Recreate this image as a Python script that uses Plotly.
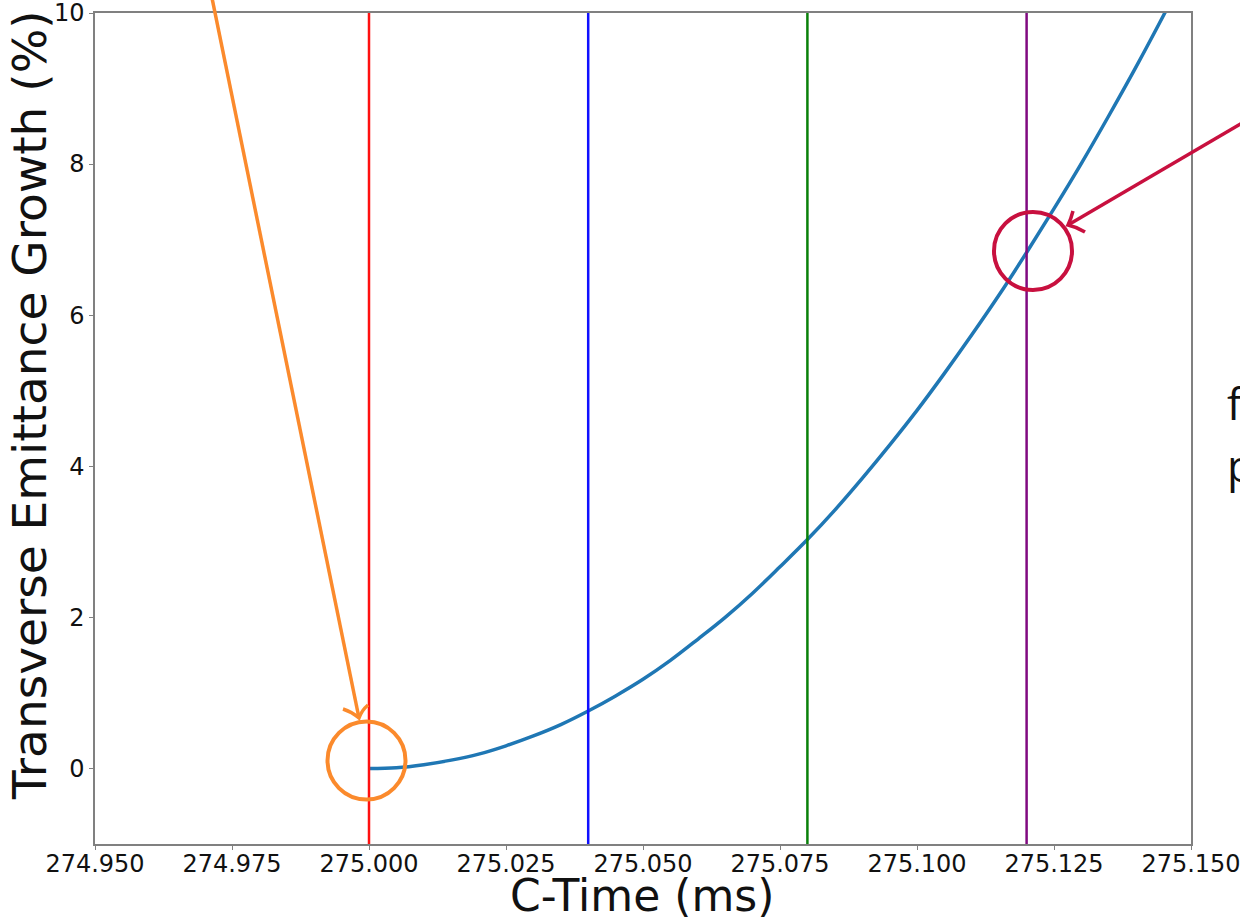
import plotly.graph_objects as go

# ---- data ----
ctime = [275.000, 275.005, 275.010, 275.015, 275.020, 275.025, 275.030, 275.035,
         275.040, 275.045, 275.050, 275.055, 275.060, 275.065, 275.070, 275.075,
         275.080, 275.085, 275.090, 275.095, 275.100, 275.105, 275.110, 275.115,
         275.120, 275.125, 275.130, 275.135, 275.140, 275.145, 275.150]
growth = [0.00, 0.01, 0.05, 0.11, 0.19, 0.30, 0.43, 0.58,
          0.76, 0.96, 1.18, 1.43, 1.71, 2.00, 2.32, 2.67,
          3.03, 3.42, 3.84, 4.28, 4.74, 5.23, 5.74, 6.27,
          6.83, 7.41, 8.01, 8.64, 9.29, 9.97, 10.67]

marker_times = [275.000, 275.040, 275.080, 275.120]
marker_colors = ["#ff1010", "#1010ff", "#0a800a", "#800a80"]

x_ticks = [274.950, 274.975, 275.000, 275.025, 275.050, 275.075, 275.100, 275.125, 275.150]
x_tick_labels = ["274.950", "274.975", "275.000", "275.025", "275.050",
                 "275.075", "275.100", "275.125", "275.150"]
y_ticks = [0, 2, 4, 6, 8, 10]

# ---- layout geometry (pixels) ----
W, H = 1240, 922
L, R, T, B = 95, 1191, 13, 844


def px(xpix):
    return (xpix - L) / (R - L)


def py(ypix):
    return (B - ypix) / (B - T)


fig = go.Figure()

fig.add_trace(go.Scatter(x=ctime, y=growth, mode="lines", line_shape="spline",
                         line=dict(color="#1f77b4", width=3.5),
                         showlegend=False, hoverinfo="skip"))

for xt, col in zip(marker_times, marker_colors):
    fig.add_trace(go.Scatter(x=[xt, xt], y=[-1, 10], mode="lines",
                             line=dict(color=col, width=2.5),
                             showlegend=False, hoverinfo="skip"))

shapes = []
ORANGE = "#fb8a2c"
CRIMSON = "#c8103f"

# orange arrow + circle
shapes.append(dict(type="line", xref="paper", yref="paper",
                   x0=px(212), y0=py(-2), x1=px(359), y1=py(718),
                   line=dict(color=ORANGE, width=3.5)))
shapes.append(dict(type="path", xref="paper", yref="paper",
                   path=f"M {px(343)},{py(709)} Q {px(352)},{py(712)} {px(359)},{py(718)} "
                        f"Q {px(362)},{py(710)} {px(368)},{py(705)}",
                   line=dict(color=ORANGE, width=3.5)))
shapes.append(dict(type="circle", xref="paper", yref="paper",
                   x0=px(327.5), x1=px(405.5), y0=py(799.5), y1=py(721.5),
                   line=dict(color=ORANGE, width=4)))

# crimson arrow + circle
shapes.append(dict(type="line", xref="paper", yref="paper",
                   x0=px(1242), y0=py(123), x1=px(1068), y1=py(225),
                   line=dict(color=CRIMSON, width=3.5)))
shapes.append(dict(type="path", xref="paper", yref="paper",
                   path=f"M {px(1073)},{py(211)} Q {px(1071)},{py(219)} {px(1068)},{py(225)} "
                        f"Q {px(1077)},{py(227)} {px(1085)},{py(232)}",
                   line=dict(color=CRIMSON, width=3.5)))
shapes.append(dict(type="circle", xref="paper", yref="paper",
                   x0=px(994), x1=px(1072), y0=py(290), y1=py(212),
                   line=dict(color=CRIMSON, width=4)))

annotations = [
    dict(text="Transverse Emittance Growth (%)", xref="paper", yref="paper",
         x=px(29), y=py(405), xanchor="center", yanchor="middle", textangle=-90,
         showarrow=False, font=dict(family="DejaVu Sans", size=47, color="#111")),
    dict(text="C-Time (ms)", xref="paper", yref="paper",
         x=px(642), y=py(922), xanchor="center", yanchor="bottom",
         showarrow=False, borderpad=0,
         font=dict(family="DejaVu Sans", size=44, color="#111")),
    dict(text="f", xref="paper", yref="paper", x=px(1225), y=py(403),
         xanchor="left", yanchor="middle", showarrow=False,
         font=dict(family="Open Sans", size=44, color="#111")),
    dict(text="p", xref="paper", yref="paper", x=px(1225), y=py(465),
         xanchor="left", yanchor="middle", showarrow=False,
         font=dict(family="Open Sans", size=44, color="#111")),
]

axis_common = dict(showline=True, linecolor="#808080", linewidth=1.5, mirror=True,
                   ticks="outside", ticklen=4, tickwidth=1.2, tickcolor="#808080",
                   showgrid=False, zeroline=False, automargin=False,
                   ticklabeloverflow="allow",
                   tickfont=dict(family="DejaVu Sans", size=24, color="#111"))

fig.update_layout(
    width=W, height=H,
    margin=dict(l=L, r=W - R, t=T, b=H - B),
    paper_bgcolor="white", plot_bgcolor="white",
    shapes=shapes, annotations=annotations,
    xaxis=dict(range=[274.95, 275.15], tickvals=x_ticks, ticktext=x_tick_labels,
               ticklabelstandoff=-7, **axis_common),
    yaxis=dict(range=[-1, 10], tickvals=y_ticks, **axis_common),
)

fig.write_html("out.html")
